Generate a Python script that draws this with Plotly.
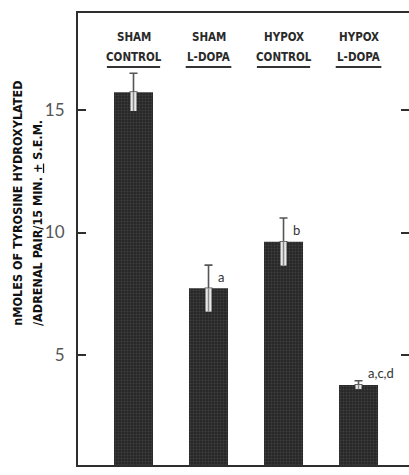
import plotly.graph_objects as go

# Group names (two lines each) and measured activity
groups_top = ["SHAM", "SHAM", "HYPOX", "HYPOX"]
groups_bottom = ["CONTROL", "L-DOPA", "CONTROL", "L-DOPA"]
activity = [15.73, 7.72, 9.62, 3.78]
sem = [0.77, 0.95, 0.97, 0.17]
sig_labels = ["", "a", "b", "a,c,d"]
ytick_vals = [5, 10, 15]
ytick_text = ["5", "10", "15"]

xpos = list(range(1, len(activity) + 1))
INK = "#2e2e2e"

fig = go.Figure()

fig.add_trace(go.Bar(
    x=xpos, y=activity, width=0.52,
    marker=dict(
        color="#2a2a2a",
        line=dict(width=0),
        pattern=dict(shape=".", fgcolor="#5a5a5a", bgcolor="#262626",
                     size=3, solidity=0.35),
    ),
    showlegend=False, hoverinfo="skip",
))

# upper whisker with cap
fig.add_trace(go.Scatter(
    x=xpos, y=activity, mode="markers", marker=dict(size=1, color="rgba(0,0,0,0)"),
    error_y=dict(type="data", array=sem, arrayminus=[0] * len(sem),
                 color="#555555", thickness=1.6, width=4),
    showlegend=False, hoverinfo="skip",
))
# lower whisker drawn as a light band inside the bar
fig.add_trace(go.Scatter(
    x=xpos, y=activity, mode="markers", marker=dict(size=1, color="rgba(0,0,0,0)"),
    error_y=dict(type="data", array=[0] * len(sem), arrayminus=sem,
                 color="#e8e8e8", thickness=6, width=0),
    showlegend=False, hoverinfo="skip",
))
fig.add_trace(go.Scatter(
    x=xpos, y=activity, mode="markers", marker=dict(size=1, color="rgba(0,0,0,0)"),
    error_y=dict(type="data", array=[0] * len(sem), arrayminus=sem,
                 color="#8a8a8a", thickness=1.5, width=0),
    showlegend=False, hoverinfo="skip",
))

annotations = []
shapes = []
cat_font = dict(family="DejaVu Sans Condensed, sans-serif",
                size=11.5, color="#2a2a2a", weight="bold")
for x, top, bottom in zip(xpos, groups_top, groups_bottom):
    annotations.append(dict(
        x=x, xref="x", y=1.0, yref="paper", yshift=-24,
        text=top, showarrow=False, font=cat_font, yanchor="middle",
    ))
    annotations.append(dict(
        x=x, xref="x", y=1.0, yref="paper", yshift=-44,
        text=bottom, showarrow=False, font=cat_font, yanchor="middle",
    ))
    # rule under each group name, sized to the second line
    half = len(bottom) * 3.8
    shapes.append(dict(
        type="line", xref="x", xsizemode="pixel", xanchor=x, x0=-half, x1=half,
        yref="paper", ysizemode="pixel", yanchor=1.0, y0=-54, y1=-54,
        line=dict(color="#333333", width=2),
    ))

for x, v, e, lab in zip(xpos, activity, sem, sig_labels):
    if not lab:
        continue
    annotations.append(dict(
        x=x, xref="x", y=v + e, yref="y", xshift=7, yshift=-2,
        text=lab, showarrow=False, xanchor="left", yanchor="top" if lab != "a,c,d" else "bottom",
        font=dict(family="Lato, DejaVu Sans, sans-serif", size=13, color="#333333"),
    ))

title_font = dict(family="DejaVu Sans Condensed, DejaVu Sans, sans-serif",
                  size=12.5, color="#111111", weight="bold")
annotations.append(dict(
    x=-0.184, xref="paper", y=0.303, yref="paper",
    text="nMOLES OF TYROSINE HYDROXYLATED", textangle=-90, showarrow=False,
    xanchor="center", yanchor="bottom", font=title_font,
))
annotations.append(dict(
    x=-0.124, xref="paper", y=0.303, yref="paper",
    text="/ADRENAL PAIR/15 MIN. <u>+</u> S.E.M.", textangle=-90, showarrow=False,
    xanchor="center", yanchor="bottom", font=title_font,
))

fig.update_layout(
    width=409, height=475,
    margin=dict(l=78, r=0, t=13, b=10),
    paper_bgcolor="white", plot_bgcolor="white",
    annotations=annotations, shapes=shapes,
    xaxis=dict(range=[0.26, 4.673], showticklabels=False, ticks="", showgrid=False,
               zeroline=False, showline=True, linecolor=INK, linewidth=2, mirror=True),
    yaxis=dict(range=[0.51, 18.96], tickvals=ytick_vals, ticktext=ytick_text,
               ticks="inside", ticklen=8, tickwidth=2, tickcolor=INK,
               ticklabelstandoff=8,
               tickfont=dict(family="Lato, DejaVu Sans, sans-serif", size=17, color="#555555"),
               showgrid=False, zeroline=False, showline=True, linecolor=INK, linewidth=2),
    yaxis2=dict(range=[0.51, 18.96], tickvals=ytick_vals, overlaying="y", side="right",
                ticks="inside", ticklen=8, tickwidth=2, tickcolor=INK,
                showticklabels=False, showgrid=False, zeroline=False, showline=False),
)
# anchor an invisible trace on the right-hand axis so its ticks are drawn
fig.add_trace(go.Scatter(x=[None], y=[None], yaxis="y2", showlegend=False, hoverinfo="skip"))

fig.write_html("out.html")
